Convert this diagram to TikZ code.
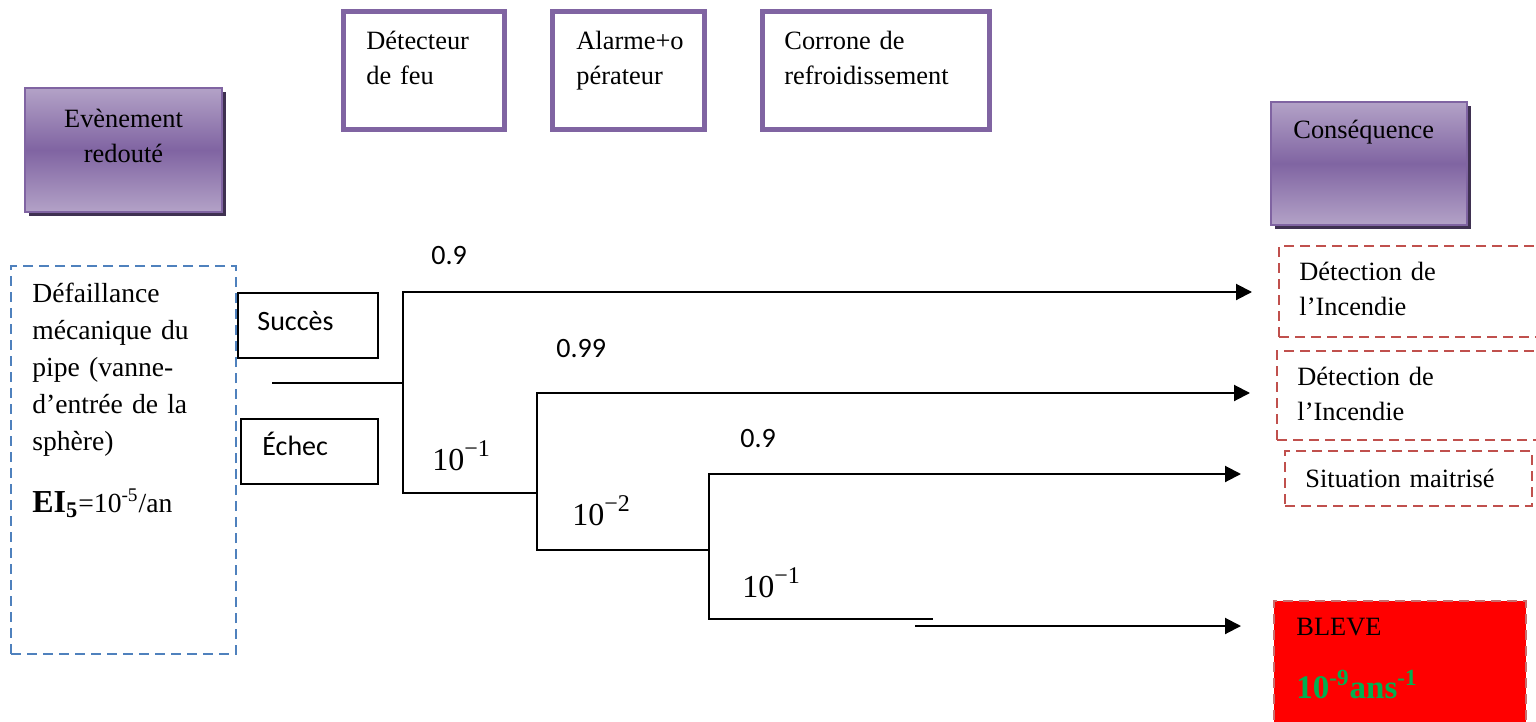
\documentclass[tikz,border=0pt]{standalone}
\usepackage{fontspec}
\setmainfont{Liberation Serif}
\newfontfamily\calfont{Carlito}
\usetikzlibrary{arrows.meta,shadows}
\definecolor{boxpurple}{HTML}{8064A2}
\definecolor{lightpurple}{HTML}{B3A2C7}
\definecolor{darkpurple}{HTML}{3F3151}
\definecolor{eventblue}{HTML}{4F81BD}
\definecolor{outred}{HTML}{C0504D}
\definecolor{bleveedge}{HTML}{C86E6E}
\definecolor{probgreen}{HTML}{00B050}
\newcommand{\tenpow}[1]{10\raisebox{0.42em}{\fontsize{12}{12}\selectfont −#1}}
\begin{document}
\begin{tikzpicture}[x=0.5pt,y=-0.5pt,
			every node/.style={inner sep=0pt},
			barrier/.style={draw=boxpurple,line width=2.5pt,minimum width=#1,minimum height=59pt},
			header/.style={draw=boxpurple,line width=0.75pt,top color=lightpurple,bottom color=lightpurple,
				middle color=boxpurple,drop shadow={shadow xshift=2pt,shadow yshift=-2pt,fill=darkpurple,opacity=1}},
			outcome/.style={draw=outred,line width=1pt,dash pattern=on 5pt off 3pt},
			stage/.style={draw,line width=0.8pt},
			txt/.style={font=\fontsize{13.2}{17.5}\selectfont,anchor=base west,align=left,text width=#1},
			lab/.style={font=\calfont\fontsize{14}{16}\selectfont,anchor=base west},
			prob/.style={font=\fontsize{16}{18}\selectfont,anchor=base west},
			branch/.style={line width=1pt},
			arr/.style={branch,-{Triangle[length=8pt,width=8pt]}}]
			\useasboundingbox (0,0) rectangle (1536,722);
			\node[barrier=80.5pt] (det) at (424,70.5) {};
			\node[txt=75pt] (det-t) at (366,50) {Détecteur\\de feu};
			\node[barrier=76pt] (alm) at (628.5,70.5) {};
			\node[txt=70pt] (alm-t) at (576,50) {Alarme+o\\pérateur};
			\node[barrier=113.5pt] (cool) at (876,70.5) {};
			\node[txt=100pt] (cool-t) at (784,50) {Corrone de\\refroidissement};
			\node[header,minimum width=98.5pt,minimum height=62pt] (ev) at (123.5,150) {};
			\node[txt=98pt,anchor=base,align=center] (ev-t) at (123.5,127) {Evènement\\redouté};
			\node[header,minimum width=98pt,minimum height=61.5pt] (cons) at (1369,163.5) {};
			\node[txt=98pt] (cons-t) at (1293,139) {Conséquence};
			\node[draw=eventblue,line width=1pt,dash pattern=on 5pt off 3pt,minimum width=112.5pt,minimum height=194pt] (init) at (123.5,460) {};
			\node[txt=105pt,font=\fontsize{13.8}{18.5}\selectfont] (init-t) at (32,302) {Défaillance\\mécanique du\\pipe (vanne-\\d’entrée de la\\sphère)\\[12.5pt]{\fontsize{16}{18}\selectfont\bfseries EI\textsubscript{5}}=10\textsuperscript{-5}/an};
			\node[stage,minimum width=70pt,minimum height=32.5pt] (succ) at (308,325.5) {};
			\node[lab] (succ-t) at (257,330) {Succès};
			\node[stage,minimum width=68.5pt,minimum height=32.5pt] (ech) at (309.5,451.5) {};
			\node[lab] (ech-t) at (262,455) {Échec};
			\node[outcome,minimum width=133pt,minimum height=45.5pt] (o1) at (1412,291.5) {};
			\node[txt=120pt] (o1-t) at (1299,280) {Détection de\\l’Incendie};
			\node[outcome,minimum width=134pt,minimum height=44.5pt] (o2) at (1411,395.5) {};
			\node[txt=120pt] (o2-t) at (1297,385) {Détection de\\l’Incendie};
			\node[outcome,minimum width=123.5pt,minimum height=27.5pt] (o3) at (1408.5,478.5) {};
			\node[txt=120pt] (o3-t) at (1305,487) {Situation maitrisé};
			\node[outcome,draw=bleveedge,fill=red,minimum width=126pt,minimum height=69.5pt] (o4) at (1400,670.5) {};
			\node[txt=120pt] (o4-t) at (1296,635) {BLEVE};
			\node[txt=120pt,font=\fontsize{16.5}{18}\selectfont\bfseries,text=probgreen] (o4-p) at (1296,698) {10\textsuperscript{-9}ans\textsuperscript{-1}};
			\coordinate (root) at (272,383);
			\coordinate (n1) at (403,383);
			\coordinate (n2) at (537,493);
			\coordinate (n3) at (709,550);
			\coordinate (n4) at (933,619);
			\coordinate (n5) at (915,626);
			\coordinate (e1) at (1252,292);
			\coordinate (e2) at (1250,393);
			\coordinate (e3) at (1241,474);
			\coordinate (e4) at (1241,626);
			\draw[branch] (root) -- (n1) |- (n2) |- (n3) |- (n4);
			\draw[arr] (n1) |- (e1);
			\draw[arr] (n2) |- (e2);
			\draw[arr] (n3) |- (e3);
			\draw[arr] (n5) -- (e4);
			\node[lab] (p1) at (431,264) {0.9};
			\node[lab] (p2) at (556,357) {0.99};
			\node[lab] (p3) at (740,447) {0.9};
			\node[prob] (q1) at (432,470) {\tenpow{1}};
			\node[prob] (q2) at (572,525) {\tenpow{2}};
			\node[prob] (q3) at (742,597) {\tenpow{1}};
		\end{tikzpicture}
\end{document}
